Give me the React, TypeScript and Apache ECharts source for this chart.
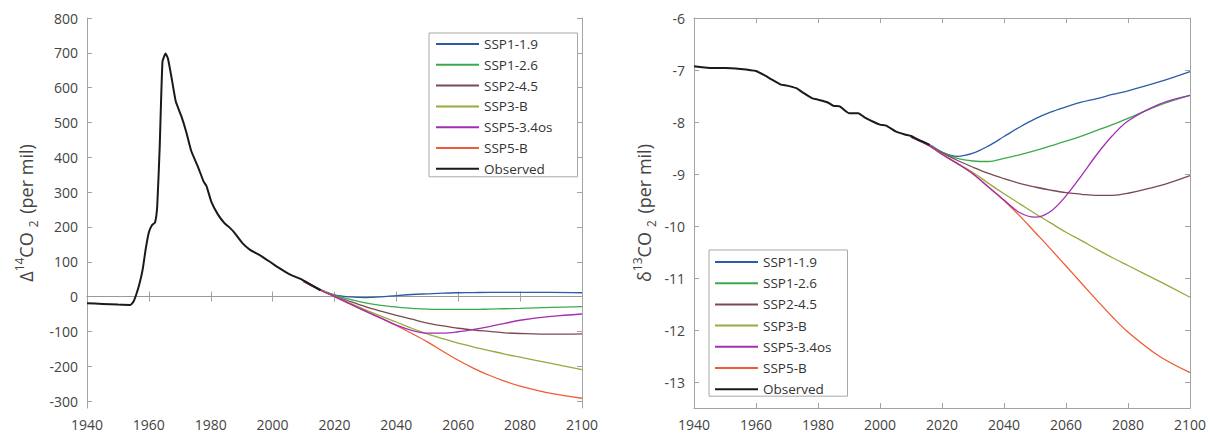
import React, { useEffect, useRef } from "react";
import * as echarts from "echarts";

const FONT = "Open Sans";

const scenarioNames = ["SSP1-1.9", "SSP1-2.6", "SSP2-4.5", "SSP3-B", "SSP5-3.4os", "SSP5-B"];
const observedName = "Observed";
const scenarioColors = ["#2b5ca8", "#3caa4c", "#7a4a52", "#9aa83e", "#a22fb2", "#ef5b33"];

const xTicks = [1940, 1960, 1980, 2000, 2020, 2040, 2060, 2080, 2100];
const d14Ticks = [-300, -200, -100, 0, 100, 200, 300, 400, 500, 600, 700, 800];
const d13Ticks = [-13, -12, -11, -10, -9, -8, -7, -6];

// Observed Δ14CO2
const obsYearsD14 = [1940, 1945, 1950, 1954, 1955, 1956, 1957, 1958, 1959, 1960, 1961, 1962, 1962.7, 1963.5, 1964.4, 1965.4, 1966.2, 1967.5, 1968.7, 1970.5, 1972.1, 1973.7, 1975.9, 1977.7, 1978.6, 1980.2, 1982.3, 1984.5, 1986.1, 1987.5, 1990.4, 1992.6, 1995.8, 1999.1, 2002.3, 2005.5, 2008.7, 2012, 2015.5];
const obsD14 = [-19, -21, -23, -24, -15, 8, 38, 78, 138, 185, 205, 213, 260, 430, 675, 698, 682, 620, 560, 518, 472, 418, 372, 330, 318, 272, 236, 210, 198, 185, 152, 135, 119, 100, 81, 64, 52, 36, 18];

// Observed δ13CO2
const obsYearsD13 = [1940, 1945, 1950, 1955, 1960, 1963, 1965, 1968, 1970, 1973, 1975, 1978, 1980, 1983, 1985, 1987, 1990, 1993, 1995, 1998, 2000, 2002, 2005, 2008, 2010, 2013, 2016];
const obsD13 = [-6.93, -6.96, -6.96, -6.98, -7.02, -7.11, -7.18, -7.28, -7.3, -7.35, -7.43, -7.54, -7.57, -7.62, -7.69, -7.7, -7.83, -7.83, -7.91, -8.0, -8.05, -8.07, -8.18, -8.24, -8.27, -8.36, -8.44];

// Projections
const projYears = [2010, 2016, 2020, 2025, 2030, 2035, 2040, 2045, 2050, 2055, 2060, 2065, 2070, 2075, 2080, 2090, 2100];

const d14Ssp119 = [45, 18, 5, -1, -3, -1, 3, 6, 8, 10, 11, 11.5, 12, 12, 12, 12, 11];
const d14Ssp126 = [45, 18, 4, -8, -18, -25, -30, -34, -36, -37, -37, -37, -36, -35, -34, -31, -29];
const d14Ssp245 = [45, 17, 2, -14, -29, -42, -54, -65, -76, -84, -91, -96, -100, -104, -106, -108, -107];
const d14Ssp3B = [44, 17, 1, -19, -38, -56, -73, -91, -107, -121, -134, -145, -155, -165, -174, -192, -210];
const d14Ssp534 = [43, 16, 0, -21, -42, -62, -82, -97, -105, -105, -101, -94, -86, -77, -68, -57, -50];
const d14Ssp5B = [43, 16, 0, -21, -42, -62, -83, -106, -130, -157, -183, -206, -226, -243, -257, -278, -292];

const d13Ssp119 = [-8.28, -8.44, -8.58, -8.66, -8.6, -8.46, -8.28, -8.1, -7.94, -7.81, -7.71, -7.62, -7.55, -7.47, -7.4, -7.23, -7.03];
const d13Ssp126 = [-8.28, -8.44, -8.58, -8.7, -8.75, -8.76, -8.7, -8.63, -8.55, -8.46, -8.37, -8.27, -8.16, -8.05, -7.93, -7.68, -7.49];
const d13Ssp245 = [-8.28, -8.45, -8.59, -8.74, -8.87, -8.99, -9.09, -9.18, -9.25, -9.31, -9.36, -9.39, -9.41, -9.41, -9.37, -9.23, -9.03];
const d13Ssp3B = [-8.29, -8.46, -8.62, -8.8, -8.97, -9.18, -9.38, -9.57, -9.76, -9.94, -10.12, -10.28, -10.45, -10.61, -10.76, -11.06, -11.37];
const d13Ssp534 = [-8.29, -8.46, -8.62, -8.8, -9.0, -9.25, -9.5, -9.74, -9.83, -9.72, -9.42, -9.03, -8.62, -8.26, -7.98, -7.66, -7.49];
const d13Ssp5B = [-8.29, -8.46, -8.62, -8.8, -9.0, -9.25, -9.51, -9.8, -10.12, -10.44, -10.77, -11.1, -11.43, -11.75, -12.04, -12.5, -12.82];

const d14Scenarios = [d14Ssp119, d14Ssp126, d14Ssp245, d14Ssp3B, d14Ssp534, d14Ssp5B];
const d13Scenarios = [d13Ssp119, d13Ssp126, d13Ssp245, d13Ssp3B, d13Ssp534, d13Ssp5B];

const AXIS_COLOR = "#a3a3a3";
const LABEL_COLOR = "#444";

const zip = (xs: number[], ys: number[]) => xs.map((x, i) => [x, ys[i]]);

function xAxes(gridIndex: number) {
  const base = {
    type: "value",
    gridIndex,
    min: xTicks[0],
    max: xTicks[xTicks.length - 1],
    interval: 20,
    splitLine: { show: false },
    axisLine: { show: true, lineStyle: { color: AXIS_COLOR, width: 1 } },
    axisTick: { show: true, inside: true, length: 5, lineStyle: { color: AXIS_COLOR } },
  };
  return [
    {
      ...base,
      position: "bottom",
      axisLabel: {
        show: true,
        color: LABEL_COLOR,
        fontFamily: FONT,
        fontSize: 14,
        margin: 9,
        formatter: (v: number) => String(v),
      },
    },
    { ...base, position: "top", axisLabel: { show: false } },
  ];
}

function yAxes(gridIndex: number, min: number, max: number, ticks: number[], nameRich: string, nameGap: number) {
  const base = {
    type: "value",
    gridIndex,
    min,
    max,
    splitLine: { show: false },
    axisLine: { show: true, lineStyle: { color: AXIS_COLOR, width: 1 } },
    axisTick: { show: true, inside: true, length: 5, customValues: ticks, lineStyle: { color: AXIS_COLOR } },
  };
  const rich = {
    a: { fontFamily: FONT, fontSize: 18, color: LABEL_COLOR, lineHeight: 30, verticalAlign: "middle" },
    sup: { fontFamily: FONT, fontSize: 12, color: LABEL_COLOR, lineHeight: 12, verticalAlign: "top", padding: [2, 0, 0, 0] },
    sub: { fontFamily: FONT, fontSize: 12, color: LABEL_COLOR, lineHeight: 12, verticalAlign: "bottom", padding: [0, 2, 2, 5] },
  };
  return [
    {
      ...base,
      position: "left",
      name: nameRich,
      nameLocation: "middle",
      nameRotate: 90,
      nameGap,
      nameTextStyle: { rich },
      axisLabel: {
        show: true,
        customValues: ticks,
        color: LABEL_COLOR,
        fontFamily: FONT,
        fontSize: 14,
        margin: 9,
        formatter: (v: number) => String(v),
      },
    },
    { ...base, position: "right", axisLabel: { show: false } },
  ];
}

export default function App() {
  const ref = useRef<HTMLDivElement>(null);

  useEffect(() => {
    if (!ref.current) return;
    const chart = echarts.init(ref.current, undefined, { renderer: "svg" });

    const series: any[] = [];
    const order = [0, 1, 2, 3, 5, 4];
    const addPanel = (xi: number, yi: number, scen: number[][], obsX: number[], obsY: number[], zero: boolean) => {
      order.forEach((i) => {
        series.push({
          name: scenarioNames[i],
          type: "line",
          xAxisIndex: xi,
          yAxisIndex: yi,
          data: zip(projYears, scen[i]),
          symbol: "none",
          smooth: 0.35,
          lineStyle: { color: scenarioColors[i], width: 1.3 },
          itemStyle: { color: scenarioColors[i] },
          z: 3,
        });
      });
      const obs: any = {
        name: observedName,
        type: "line",
        xAxisIndex: xi,
        yAxisIndex: yi,
        data: zip(obsX, obsY),
        symbol: "none",
        smooth: 0.15,
        lineStyle: { color: "#1a1a1a", width: 2 },
        itemStyle: { color: "#1a1a1a" },
        z: 4,
      };
      if (zero) {
        obs.markLine = {
          silent: true,
          symbol: "none",
          label: { show: false },
          lineStyle: { color: "#9a9a9a", width: 1, type: "solid" },
          data: [{ yAxis: 0 }],
          z: 1,
        };
      }
      series.push(obs);
    };
    addPanel(0, 0, d14Scenarios, obsYearsD14, obsD14, true);
    addPanel(2, 2, d13Scenarios, obsYearsD13, obsD13, false);

    const legendNames = [...scenarioNames, observedName];
    const legendBase = {
      data: legendNames,
      orient: "vertical",
      itemWidth: 43,
      itemHeight: 14,
      borderColor: "#a8a8a8",
      borderWidth: 1,
      borderRadius: 0,
      backgroundColor: "#fff",
      selectedMode: false,
      itemStyle: { opacity: 0 },
      textStyle: { fontFamily: FONT, fontSize: 13.5, color: "#333" },
    };

    chart.setOption({
      animation: false,
      backgroundColor: "#fff",
      textStyle: { fontFamily: FONT },
      grid: [
        { left: 87, top: 18, width: 495, height: 390 },
        { left: 694, top: 18, width: 496, height: 390 },
      ],
      xAxis: [...xAxes(0), ...xAxes(1)],
      yAxis: [
        ...yAxes(0, -320, 800, d14Ticks, "{a|Δ}{sup|14}{a|CO}{sub|2}{a| (per mil)}", 46),
        ...yAxes(1, -13.5, -6, d13Ticks, "{a|δ}{sup|13}{a|CO}{sub|2}{a| (per mil)}", 35),
      ],
      legend: [
        { ...legendBase, left: 429, top: 33, itemGap: 6.8, padding: [4, 25, 1, 6] },
        { ...legendBase, left: 709, top: 250, itemGap: 7.2, padding: [5, 16, 0, 5] },
      ],
      series,
    });

    return () => chart.dispose();
  }, []);

  return (
    <div
      ref={ref}
      style={{ position: "fixed", left: 0, top: 0, width: 1212, height: 436, background: "#fff" }}
    />
  );
}
